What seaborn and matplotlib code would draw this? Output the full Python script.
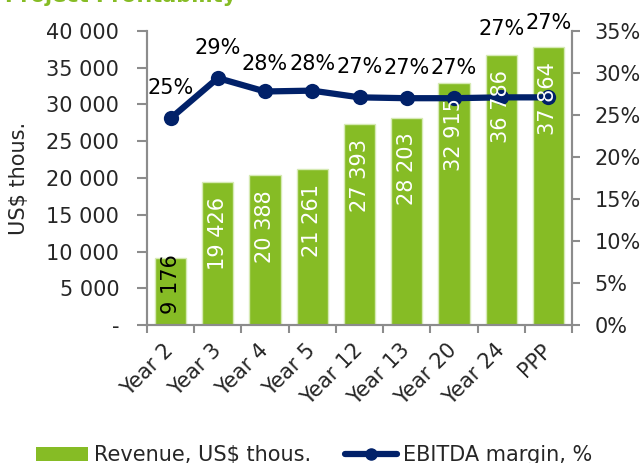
import numpy as np
import matplotlib
matplotlib.use("Agg")
import matplotlib.pyplot as plt
from matplotlib.patches import Patch
from matplotlib.lines import Line2D
from matplotlib.ticker import FuncFormatter
import seaborn as sns

# Data
categories = ["Year 2", "Year 3", "Year 4", "Year 5", "Year 12",
              "Year 13", "Year 20", "Year 24", "PPP"]
revenue = [9176, 19426, 20388, 21261, 27393, 28203, 32915, 36786, 37864]
ebitda_margin = [0.246, 0.294, 0.278, 0.279, 0.271, 0.270, 0.270, 0.271, 0.271]
revenue_ticks = [0, 5000, 10000, 15000, 20000, 25000, 30000, 35000, 40000]
margin_ticks = [0.00, 0.05, 0.10, 0.15, 0.20, 0.25, 0.30, 0.35]

# Styling
GREEN = "#86BC25"
NAVY = "#012169"
SPINE = "#8C8C8C"
FS = 15
margin_label_lift_px = [30, 30, 27, 27, 30, 30, 30, 68, 74]

sns.set_style("white")
plt.rcParams["font.family"] = ["DejaVu Sans"]

fig, ax = plt.subplots(figsize=(6.41, 4.63), dpi=100)
fig.subplots_adjust(left=147 / 641, right=572 / 641, top=1 - 31 / 463, bottom=1 - 325 / 463)

n = len(categories)
sns.barplot(x=categories, y=revenue, color=GREEN, saturation=1, width=0.66,
            edgecolor="#D6EAB4", linewidth=1, ax=ax)

ax2 = ax.twinx()
sns.lineplot(x=np.arange(n), y=ebitda_margin, ax=ax2, color=NAVY, linewidth=4.5,
             marker="o", markersize=11, markeredgecolor=NAVY, markeredgewidth=0)

ax.set_xlim(-0.5, n - 0.5)
ax.set_ylim(0, 40000)
ax2.set_ylim(0, 0.35)

# Left axis
ax.set_yticks(revenue_ticks)
ax.yaxis.set_major_formatter(FuncFormatter(
    lambda v, p: "-" if v == 0 else f"{int(v):,}".replace(",", " ")))
ax.tick_params(axis="y", direction="out", length=7, width=1.5, color=SPINE,
               labelsize=FS, pad=13, left=True)
ax.set_ylabel("")
fig.text(19 / 641, 1 - 178 / 463, "US$ thous.", rotation=90, ha="center",
         va="center", fontsize=FS)

# Right axis
ax2.set_yticks(margin_ticks)
ax2.yaxis.set_major_formatter(FuncFormatter(lambda v, p: f"{v * 100:.0f}%"))
ax2.tick_params(axis="y", direction="out", length=6, width=1.5, color=SPINE,
                labelsize=FS, pad=10, right=True)
ax2.set_ylabel("")

# Category axis
ax.set_xticks(np.arange(n))
ax.set_xticklabels(categories, rotation=45, ha="right", va="center",
                   rotation_mode="anchor", fontsize=FS)
ax.set_xticks(np.arange(n + 1) - 0.5, minor=True)
ax.tick_params(axis="x", which="major", length=0, pad=16)
ax.tick_params(axis="x", which="minor", direction="out", length=6, width=1.5,
               color=SPINE, bottom=True)
ax2.tick_params(axis="x", which="both", length=0, labelbottom=False)
ax2.set_xlabel("")
ax.set_xlabel("")

for a in (ax, ax2):
    a.spines["top"].set_visible(False)
    for s in ("left", "right", "bottom"):
        a.spines[s].set_color(SPINE)
        a.spines[s].set_linewidth(1.5)
    a.grid(False)

# Revenue labels inside the bars
for i, v in enumerate(revenue):
    txt = f"{v:,}".replace(",", " ")
    if i == 0:
        ax2.annotate(txt, xy=(i, 0), xycoords=ax.transData, xytext=(0, 11),
                     textcoords="offset pixels", rotation=90, ha="center",
                     va="bottom", color="black", fontsize=FS)
    else:
        ax2.annotate(txt, xy=(i, v), xycoords=ax.transData, xytext=(0, -15),
                     textcoords="offset pixels", rotation=90, ha="center",
                     va="top", color="white", fontsize=FS)

# Margin labels above the line
for i, (m, lift) in enumerate(zip(ebitda_margin, margin_label_lift_px)):
    ax2.annotate(f"{m * 100:.0f}%", xy=(i, m), xytext=(0, lift),
                 textcoords="offset pixels", ha="center", va="center",
                 color="black", fontsize=FS)

# Title
fig.text(0.008, 1 - 2 / 463, "Project Profitability", color=GREEN,
         fontsize=15, fontweight="bold", va="baseline", ha="left")

# Legend
handles = [
    Patch(facecolor=GREEN, edgecolor="none"),
    Line2D([0], [0], color=NAVY, linewidth=4.5, marker="o", markersize=8),
]
fig.legend(handles, ["Revenue, US$ thous.", "EBITDA margin, %"], loc="center",
           bbox_to_anchor=(0.49, 0.017), ncol=2, frameon=False, fontsize=FS,
           handlelength=2.5, handletextpad=0.3, columnspacing=1.6)

fig.savefig("out.png", dpi=100)
